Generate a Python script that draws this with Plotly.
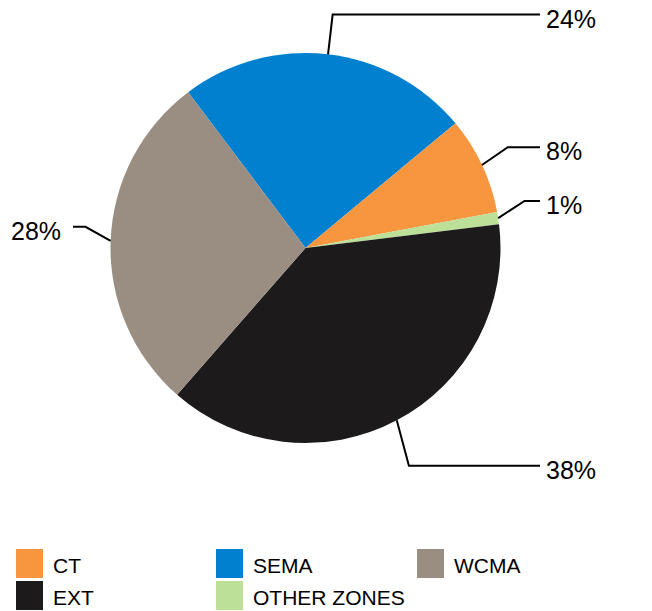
import math
import plotly.graph_objects as go

# Data (clockwise order starting at the SEMA/WCMA boundary)
slice_labels = ["SEMA", "CT", "OTHER ZONES", "EXT", "WCMA"]
slice_values = [24, 8, 1, 38, 28]
slice_colors = ["#0080CE", "#F7963F", "#BDE098", "#1C1A1B", "#9A8E83"]

# Legend order
legend_labels = ["CT", "SEMA", "WCMA", "EXT", "OTHER ZONES"]

W, H = 652, 611
CX, CY, R = 305.5, 248.0, 195.0
START = 323.0  # degrees clockwise from 12 o'clock

# leader-line elbow style: (angle shift in degrees, elbow radius in px)
ELBOW = {"SEMA": (0.0, 235), "CT": (-1.3, 226), "OTHER ZONES": (-3.3, 224),
         "EXT": (2.5, 241), "WCMA": (3.4, 221)}

def px(x):
    return x / W

def py(y):
    return 1 - y / H

fig = go.Figure()
fig.add_trace(go.Pie(
    labels=slice_labels,
    values=slice_values,
    marker=dict(colors=slice_colors, line=dict(width=0)),
    sort=False,
    direction="clockwise",
    rotation=START,
    textinfo="none",
    hoverinfo="label+percent",
    showlegend=False,
    domain=dict(x=[px(CX - R), px(CX + R)], y=[py(CY + R), py(CY - R)]),
))

shapes = []
annotations = []
total = sum(slice_values)
cum = 0.0
XR_END, XL_END = 540, 73
for lab, v in zip(slice_labels, slice_values):
    mid = START + (cum + v / 2) / total * 360.0
    cum += v
    t = math.radians(mid)
    s, c = math.sin(t), math.cos(t)
    x0, y0 = CX + R * s, CY - R * c
    da, r2 = ELBOW[lab]
    t2 = math.radians(mid + da)
    x1, y1 = CX + r2 * math.sin(t2), CY - r2 * math.cos(t2)
    right = s >= 0
    x2 = XR_END if right else XL_END
    path = f"M {px(x0)},{py(y0)} L {px(x1)},{py(y1)} L {px(x2)},{py(y1)}"
    shapes.append(dict(type="path", xref="paper", yref="paper", path=path,
                       line=dict(color="black", width=2)))
    annotations.append(dict(
        xref="paper", yref="paper",
        x=px(x2 + 4) if right else px(x2 - 10),
        y=py(y1 + 4),
        xanchor="left" if right else "right", yanchor="middle",
        text=f"{v}%", showarrow=False,
        font=dict(family="Liberation Sans, Arial", size=25, color="black"),
    ))

# Legend built from categories
color_of = dict(zip(slice_labels, slice_colors))
col_x = [16, 216, 417]
row_y = [549, 581]
for i, lab in enumerate(legend_labels):
    r, cidx = divmod(i, 3)
    x0 = col_x[cidx]
    y0 = row_y[r]
    shapes.append(dict(type="rect", xref="paper", yref="paper",
                       x0=px(x0), x1=px(x0 + 27), y0=py(y0 + 29), y1=py(y0),
                       fillcolor=color_of[lab], line=dict(width=0)))
    annotations.append(dict(
        xref="paper", yref="paper", x=px(x0 + 35), y=py(y0 + 16),
        xanchor="left", yanchor="middle", text=lab, showarrow=False,
        font=dict(family="Liberation Sans, Arial", size=21, color="black"),
    ))

fig.update_layout(
    width=W, height=H,
    margin=dict(l=0, r=0, t=0, b=0),
    paper_bgcolor="white", plot_bgcolor="white",
    shapes=shapes, annotations=annotations,
    showlegend=False,
)
fig.write_html("out.html", config={"displayModeBar": False},
               post_script="document.body.style.margin='0';document.body.style.overflow='hidden';")
